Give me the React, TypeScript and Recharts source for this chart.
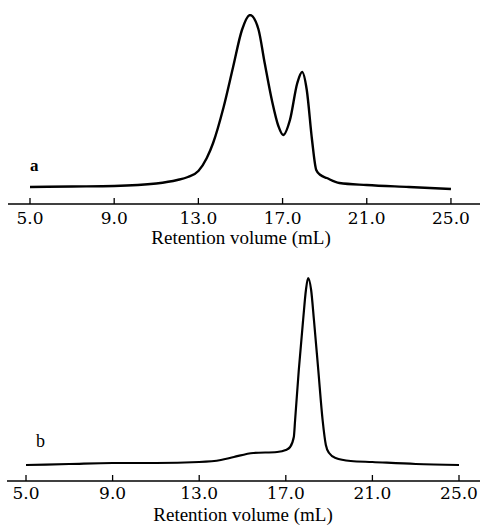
import React from 'react';
import { LineChart, Line, XAxis, YAxis } from 'recharts';

// Chromatogram a
const volumeA = [5, 7, 9, 11, 12, 12.5, 13, 13.4, 13.7, 14.2, 14.65, 15.07, 15.45, 15.85, 16.15, 16.5, 16.8, 17.03, 17.35, 17.7, 17.93, 18.15, 18.4, 18.6, 18.8, 19.1, 19.7, 21, 23, 25];
const signalA = [2, 2.5, 3, 5.5, 9, 12, 18, 31, 46, 82, 122, 159, 174, 160, 126, 88, 63, 54, 69, 106, 117, 99, 49, 19, 14, 11, 6, 4, 2, 0];

// Chromatogram b
const volumeB = [5, 7, 9, 11, 13, 14, 14.6, 15.5, 16.6, 17.0, 17.2, 17.37, 17.43, 17.6, 17.8, 17.93, 18.03, 18.17, 18.3, 18.5, 18.7, 18.85, 19.0, 19.3, 20, 21, 23, 25];
const signalB = [0, 1, 2, 2, 3, 5, 8, 12, 13, 15, 18, 28, 45, 95, 145, 175, 187, 175, 145, 95, 45, 20, 12, 7, 4, 3, 1, 0];

const tickValues = [5, 9, 13, 17, 21, 25];
const axisTitle = 'Retention volume (mL)';
const panelLabels = ['a', 'b'];

const dataA = volumeA.map((v, i) => ({ v, s: signalA[i] }));
const dataB = volumeB.map((v, i) => ({ v, s: signalB[i] }));

const makeTick = (baseline: number) => (props: any) => {
  const { x, y, payload } = props;
  return (
    <g>
      <line x1={x} x2={x} y1={y - 6} y2={y} stroke="#000" strokeWidth={1.3} />
      <text x={x} y={y + baseline} textAnchor="middle" fontFamily="DejaVu Serif" fontSize={17} fill="#000">
        {Number(payload.value).toFixed(1)}
      </text>
    </g>
  );
};

const Title = (props: any) => (
  <text x={props.cx} y={props.ty} textAnchor="middle" fontFamily="Liberation Serif" fontSize={19} fill="#000">
    {axisTitle}
  </text>
);

export default function App() {
  return (
    <div style={{ position: 'absolute', left: 0, top: 0, width: 480, height: 528, background: '#fff' }}>
      <div style={{ position: 'absolute', left: 0, top: 0 }}>
        <LineChart width={480} height={260} data={dataA} margin={{ top: 14, right: 0, left: 8, bottom: 0 }}>
          <XAxis
            dataKey="v"
            type="number"
            domain={[3.955, 26.38]}
            ticks={tickValues}
            allowDataOverflow
            height={56}
            tickSize={0}
            tickMargin={0}
            tickLine={false}
            axisLine={{ stroke: '#000', strokeWidth: 1.5 }}
            tick={makeTick(20)}
            interval={0}
            label={<Title cx={241} ty={244} />}
          />
          <YAxis hide width={0} domain={[-15, 175]} type="number" allowDataOverflow />
          <Line dataKey="s" type="monotone" stroke="#000" strokeWidth={2.4} dot={false} isAnimationActive={false} />
        </LineChart>
      </div>
      <div style={{ position: 'absolute', left: 0, top: 260 }}>
        <LineChart width={480} height={268} data={dataB} margin={{ top: 10, right: 0, left: 7, bottom: 0 }}>
          <XAxis
            dataKey="v"
            type="number"
            domain={[4.122, 25.97]}
            ticks={tickValues}
            allowDataOverflow
            height={47}
            tickSize={0}
            tickMargin={0}
            tickLine={false}
            axisLine={{ stroke: '#000', strokeWidth: 1.5 }}
            tick={makeTick(18)}
            interval={0}
            label={<Title cx={243} ty={261} />}
          />
          <YAxis hide width={0} domain={[-16, 195]} type="number" allowDataOverflow />
          <Line dataKey="s" type="monotone" stroke="#000" strokeWidth={2.2} dot={false} isAnimationActive={false} />
        </LineChart>
      </div>
      <div style={{ position: 'absolute', left: 30, top: 156, fontFamily: 'Liberation Serif', fontWeight: 'bold', fontSize: 17, lineHeight: '20px' }}>
        {panelLabels[0]}
      </div>
      <div style={{ position: 'absolute', left: 36, top: 431, fontFamily: 'Liberation Serif', fontSize: 18, lineHeight: '20px' }}>
        {panelLabels[1]}
      </div>
    </div>
  );
}
